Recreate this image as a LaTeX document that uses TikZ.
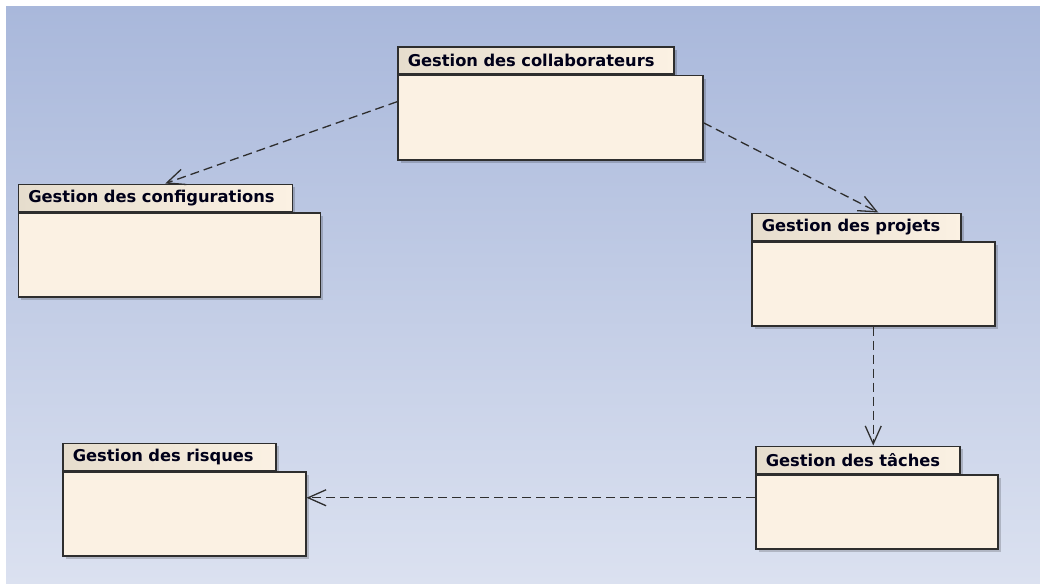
\documentclass[tikz,border=0pt]{standalone}
\usepackage{fontspec}
\usetikzlibrary{arrows.meta,shadows}
\newfontfamily\pkgfont{DejaVu Sans}
\definecolor{bgtop}{HTML}{A9B8DB}
\definecolor{bgbot}{HTML}{DBE1F0}
\definecolor{pkgfill}{HTML}{FBF1E3}
\definecolor{tabdark}{HTML}{E6DDCD}
\definecolor{pkgline}{HTML}{2E2E2E}

\tikzset{
  pkgtab/.style={draw=pkgline,line width=1.5pt,left color=tabdark,right color=pkgfill,
    anchor=south west,minimum height=27pt,inner xsep=10pt,inner ysep=0pt,align=left,
    font=\pkgfont\bfseries\fontsize{16.3}{19}\selectfont,text=black!90!blue,
    drop shadow={shadow xshift=3pt,shadow yshift=-3pt,fill=black,opacity=0.18}},
  pkgbody/.style={draw=pkgline,line width=1.5pt,fill=pkgfill,anchor=north west,
    inner sep=0pt,minimum height=84pt,
    drop shadow={shadow xshift=3pt,shadow yshift=-3pt,fill=black,opacity=0.18}},
  dep/.style={pkgline,line width=1.3pt,dash pattern=on 9pt off 5pt,->}
}

\begin{document}
\begin{tikzpicture}[x=1pt,y=-1pt,>={Straight Barb[length=18pt,width=16pt]}]
  \useasboundingbox (0,0) rectangle (1040,583);
  \fill[white] (0,0) rectangle (1040,583);
  \fill[top color=bgtop,bottom color=bgbot] (6,7) rectangle (1040,583);

  % packages
  \node[pkgtab,text width=256pt] (collab-tab) at (397,75) {Gestion des collaborateurs};
  \node[pkgbody,minimum width=305pt] (collab) at (collab-tab.south west) {};

  \node[pkgtab,text width=254pt] (config-tab) at (17.5,212) {Gestion des configurations};
  \node[pkgbody,minimum width=302pt] (config) at (config-tab.south west) {};

  \node[pkgtab,text width=189pt] (proj-tab) at (751,241) {Gestion des projets};
  \node[pkgbody,minimum width=243pt] (proj) at (proj-tab.south west) {};

  \node[pkgtab,text width=184pt] (tache-tab) at (755,474) {Gestion des tâches};
  \node[pkgbody,minimum width=242pt,minimum height=74pt] (tache) at (tache-tab.south west) {};

  \node[pkgtab,text width=193pt] (risk-tab) at (62,471) {Gestion des risques};
  \node[pkgbody,minimum width=243pt] (risk) at (risk-tab.south west) {};

  % dependencies
  \coordinate (tache-out) at ([yshift=14pt]tache.west);
  \draw[dep] ([yshift=16pt]collab.west) -- ([xshift=10pt]config-tab.north);
  \draw[dep] ([yshift=-5pt]collab.east) -- ([xshift=22pt]proj-tab.north);
  \draw[dep] (proj.south) -- (proj.south |- tache-tab.north);
  \draw[dep] (tache-out) -- (risk.east |- tache-out);
\end{tikzpicture}
\end{document}
